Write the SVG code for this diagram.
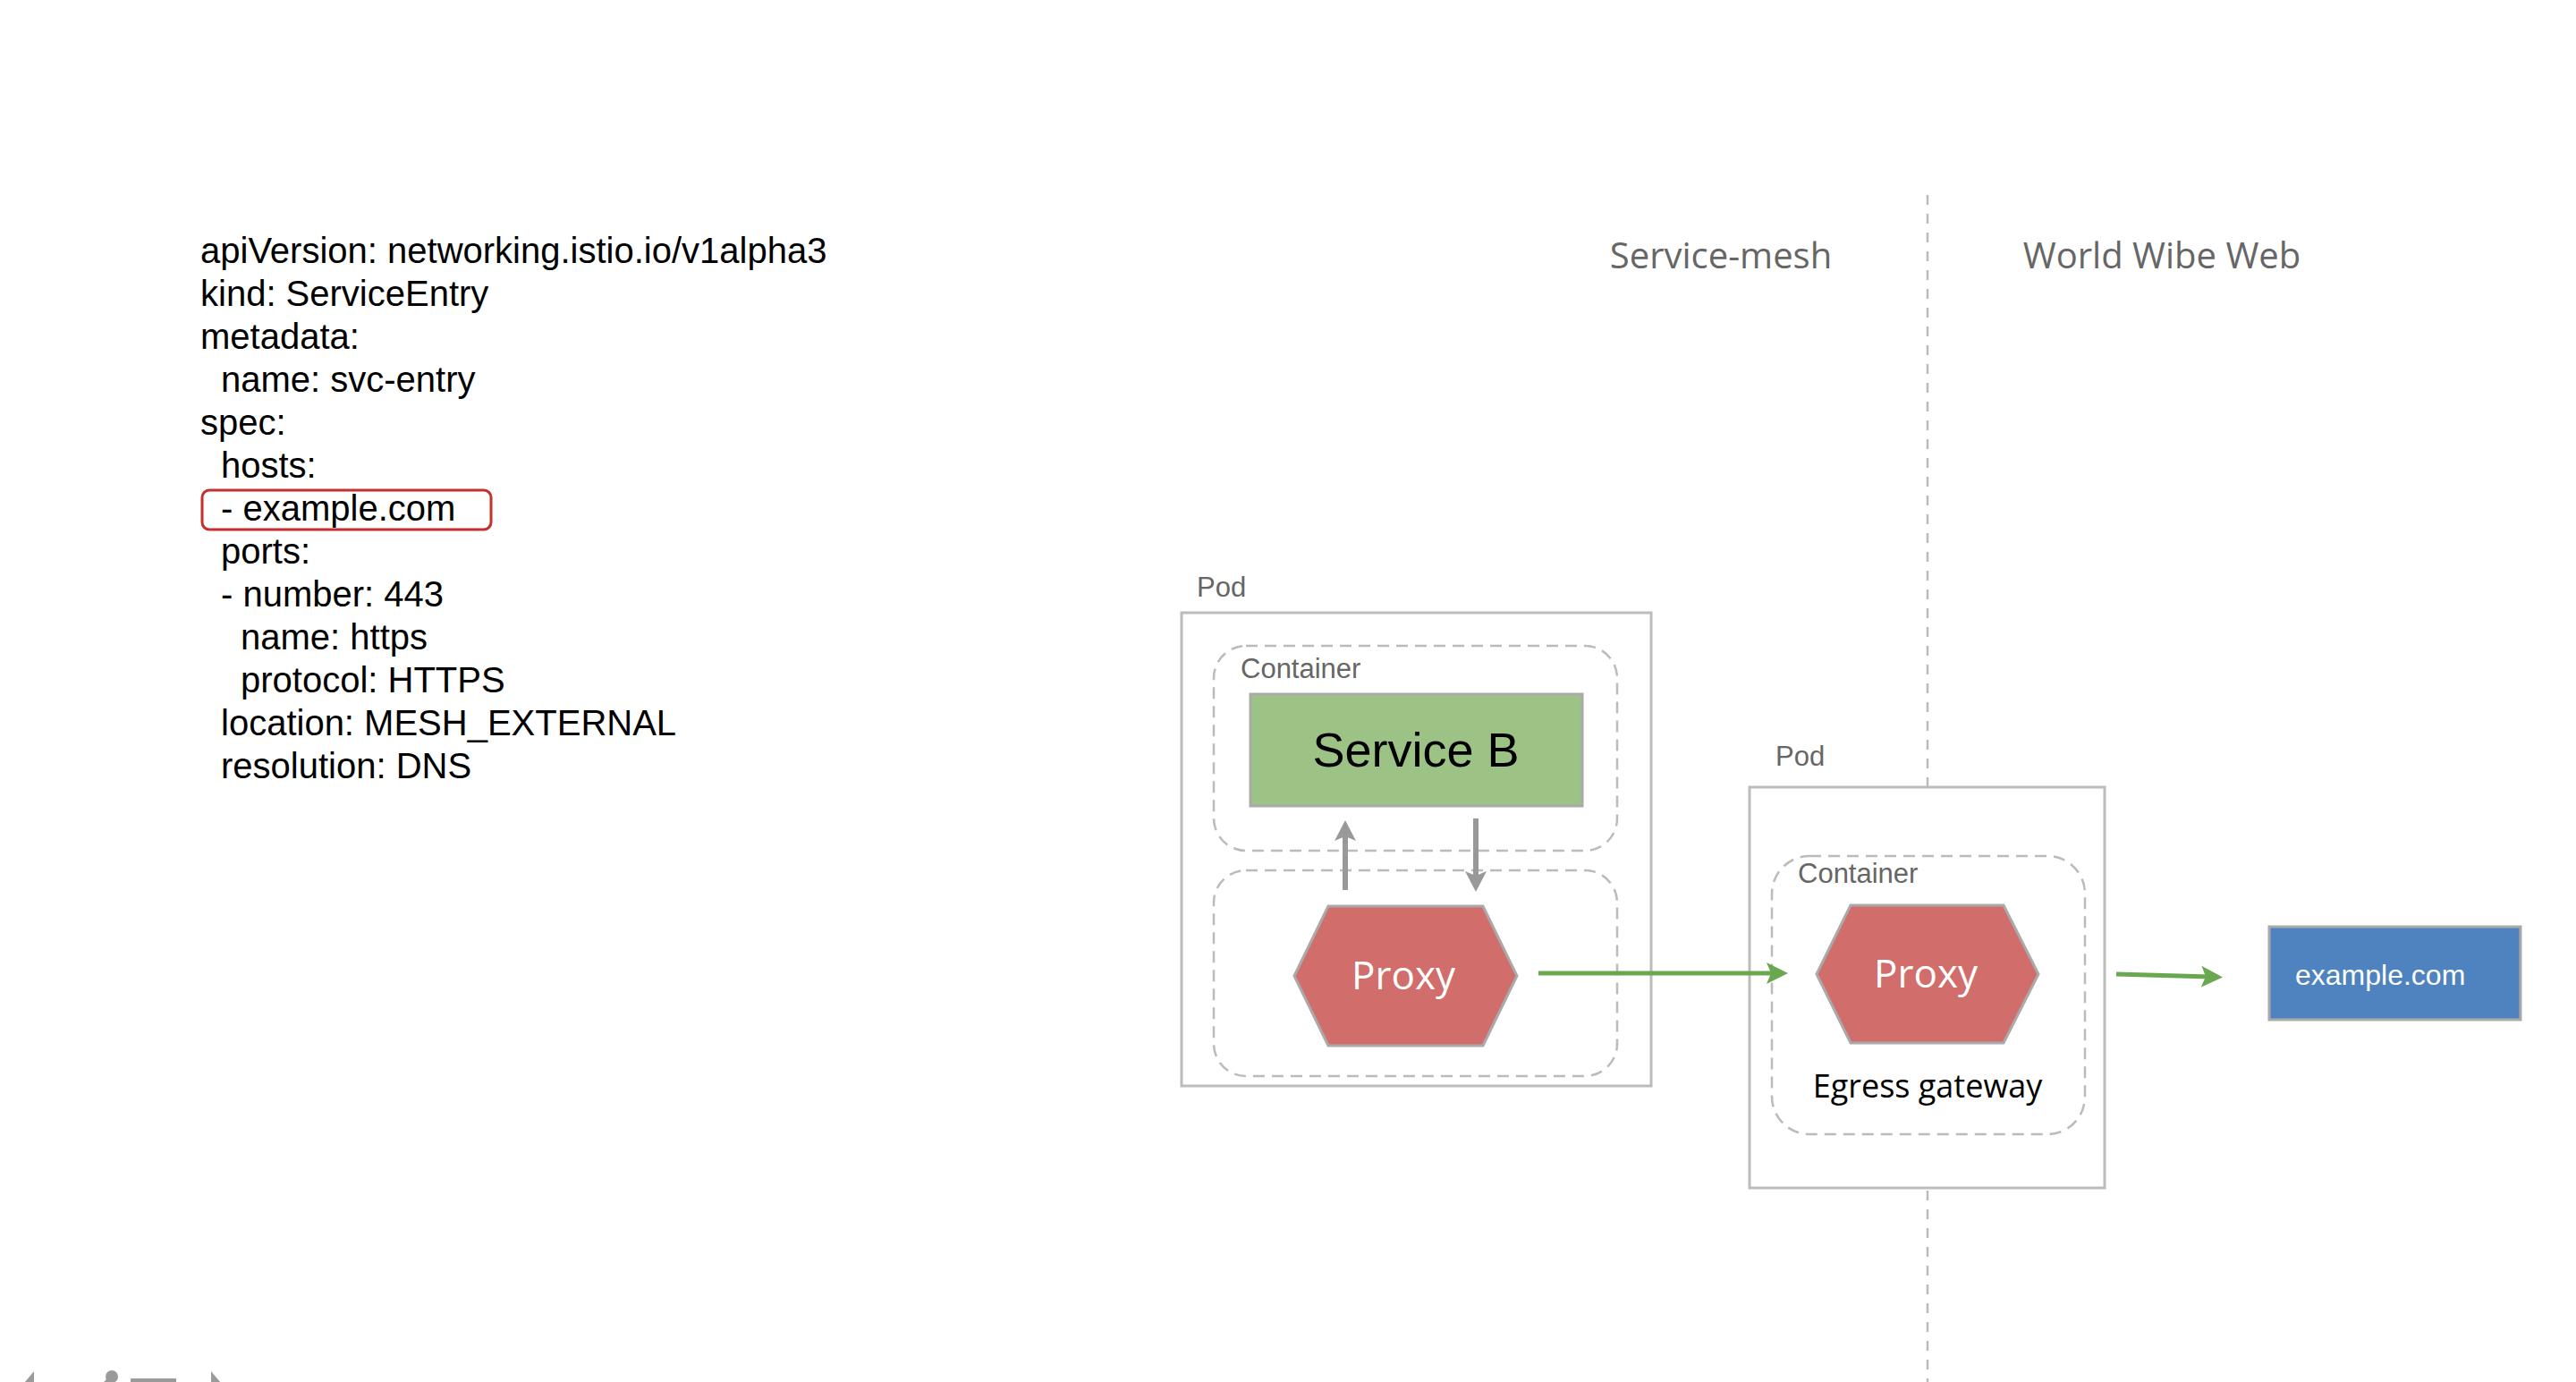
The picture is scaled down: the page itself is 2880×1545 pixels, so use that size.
<svg xmlns="http://www.w3.org/2000/svg" width="2880" height="1545" viewBox="0 0 2880 1545">
  <style>
    .yaml { font-family: "Liberation Sans", Arial, sans-serif; font-size: 40px; fill: #000; }
    .zone { font-family: "Open Sans", "Noto Sans", sans-serif; font-size: 40px; fill: #666; text-anchor: middle; }
    .lbl { font-family: "Liberation Sans", Arial, sans-serif; fill: #666; }
    .pod { fill: #fff; stroke: #bcbcbc; stroke-width: 3; }
    .ctr { fill: none; stroke: #bbb; stroke-width: 2.5; stroke-dasharray: 13 8; }
    .hex { fill: #d16d6a; stroke: #aaa; stroke-width: 3; }
    .hext { font-family: "Open Sans", "Noto Sans", sans-serif; font-size: 44px; fill: #fff; text-anchor: middle; }
    .green { fill: none; stroke: #6aa84f; stroke-width: 5; marker-end: url(#ahGreen); }
    .gray { fill: none; stroke: #999; stroke-width: 6; marker-end: url(#ahGray); }
    .ctl { fill: #9a9a9a; }
  </style>
  <defs>
    <marker id="ahGreen" markerUnits="userSpaceOnUse" markerWidth="26" markerHeight="24" refX="10" refY="12" orient="auto" viewBox="0 0 26 24">
      <path d="M0,0 L24,12 L0,24 L5,12 Z" fill="#6aa84f"/>
    </marker>
    <marker id="ahGray" markerUnits="userSpaceOnUse" markerWidth="24" markerHeight="24" refX="9" refY="12" orient="auto" viewBox="0 0 24 24">
      <path d="M0,0 L23,12 L0,24 L5,12 Z" fill="#999"/>
    </marker>
  </defs>
  <rect width="2880" height="1545" fill="#fff"/>

  <g id="yaml-spec">
    <rect x="226" y="548" width="323" height="44" rx="8" ry="8" fill="none" stroke="#c4302b" stroke-width="3"/>
    <text class="yaml" x="224" y="294">apiVersion: networking.istio.io/v1alpha3</text>
    <text class="yaml" x="224" y="342">kind: ServiceEntry</text>
    <text class="yaml" x="224" y="390">metadata:</text>
    <text class="yaml" x="247" y="438">name: svc-entry</text>
    <text class="yaml" x="224" y="486">spec:</text>
    <text class="yaml" x="247" y="534">hosts:</text>
    <text class="yaml" x="247" y="582">- example.com</text>
    <text class="yaml" x="247" y="630">ports:</text>
    <text class="yaml" x="247" y="678">- number: 443</text>
    <text class="yaml" x="269" y="726">name: https</text>
    <text class="yaml" x="269" y="774">protocol: HTTPS</text>
    <text class="yaml" x="247" y="822">location: MESH_EXTERNAL</text>
    <text class="yaml" x="247" y="870">resolution: DNS</text>
  </g>

  <g id="zones">
    <line x1="2155" y1="218" x2="2155" y2="1545" stroke="#bbb" stroke-width="2.5" stroke-dasharray="11 10"/>
    <text class="zone" x="1924" y="300">Service-mesh</text>
    <text class="zone" x="2417" y="300">World Wibe Web</text>
  </g>

  <g id="pod-service-b">
    <text class="lbl" x="1338" y="667" font-size="31">Pod</text>
    <rect class="pod" x="1321" y="685" width="525" height="529"/>
    <g id="container-service-b">
      <rect class="ctr" x="1357" y="722" width="451" height="229" rx="36" ry="36"/>
      <text class="lbl" x="1387" y="758" font-size="31">Container</text>
      <g id="service-b">
        <rect x="1398" y="776" width="371" height="125" fill="#9cc385" stroke="#aaa" stroke-width="3"/>
        <text x="1583" y="857" font-family="Liberation Sans, Arial, sans-serif" font-size="54" fill="#000" text-anchor="middle">Service B</text>
      </g>
    </g>
    <g id="container-proxy-b">
      <rect class="ctr" x="1357" y="973" width="451" height="230" rx="36" ry="36"/>
      <g id="proxy-b">
        <polygon class="hex" points="1447,1091 1485,1013 1658,1013 1696,1091 1658,1169 1485,1169"/>
        <text class="hext" x="1569" y="1106">Proxy</text>
      </g>
    </g>
  </g>

  <g id="pod-egress">
    <text class="lbl" x="1985" y="856" font-size="31">Pod</text>
    <rect class="pod" x="1956" y="880" width="397" height="448"/>
    <g id="container-egress">
      <rect class="ctr" x="1981" y="957" width="350" height="311" rx="42" ry="42"/>
      <text class="lbl" x="2010" y="987" font-size="31">Container</text>
      <g id="proxy-egress">
        <polygon class="hex" points="2031,1089 2069,1012 2240,1012 2279,1089 2240,1166 2069,1166"/>
        <text class="hext" x="2153" y="1104">Proxy</text>
      </g>
      <text x="2155" y="1227" font-family="Open Sans, Noto Sans, sans-serif" font-size="36" fill="#000" text-anchor="middle">Egress gateway</text>
    </g>
  </g>

  <g id="example-com">
    <rect x="2537" y="1036" width="281" height="104" fill="#4e83c0" stroke="#aaa" stroke-width="3"/>
    <text x="2566" y="1101" font-family="Liberation Sans, Arial, sans-serif" font-size="32" fill="#fff">example.com</text>
  </g>

  <g id="connectors">
    <path class="gray" d="M1504,995 L1504,931"/>
    <path class="gray" d="M1650,915 L1650,983"/>
    <path class="green" d="M1720,1088 L1985,1088"/>
    <path class="green" d="M2366,1089 L2471,1092"/>
  </g>

  <g id="slide-controls">
    <polygon class="ctl" points="38,1533 22,1552 38,1570"/>
    <circle class="ctl" cx="125" cy="1539" r="7"/>
    <line x1="124" y1="1541" x2="108" y2="1558" stroke="#9a9a9a" stroke-width="6"/>
    <rect class="ctl" x="146" y="1541" width="51" height="10"/>
    <polygon class="ctl" points="236,1533 252,1552 236,1570"/>
  </g>
</svg>
